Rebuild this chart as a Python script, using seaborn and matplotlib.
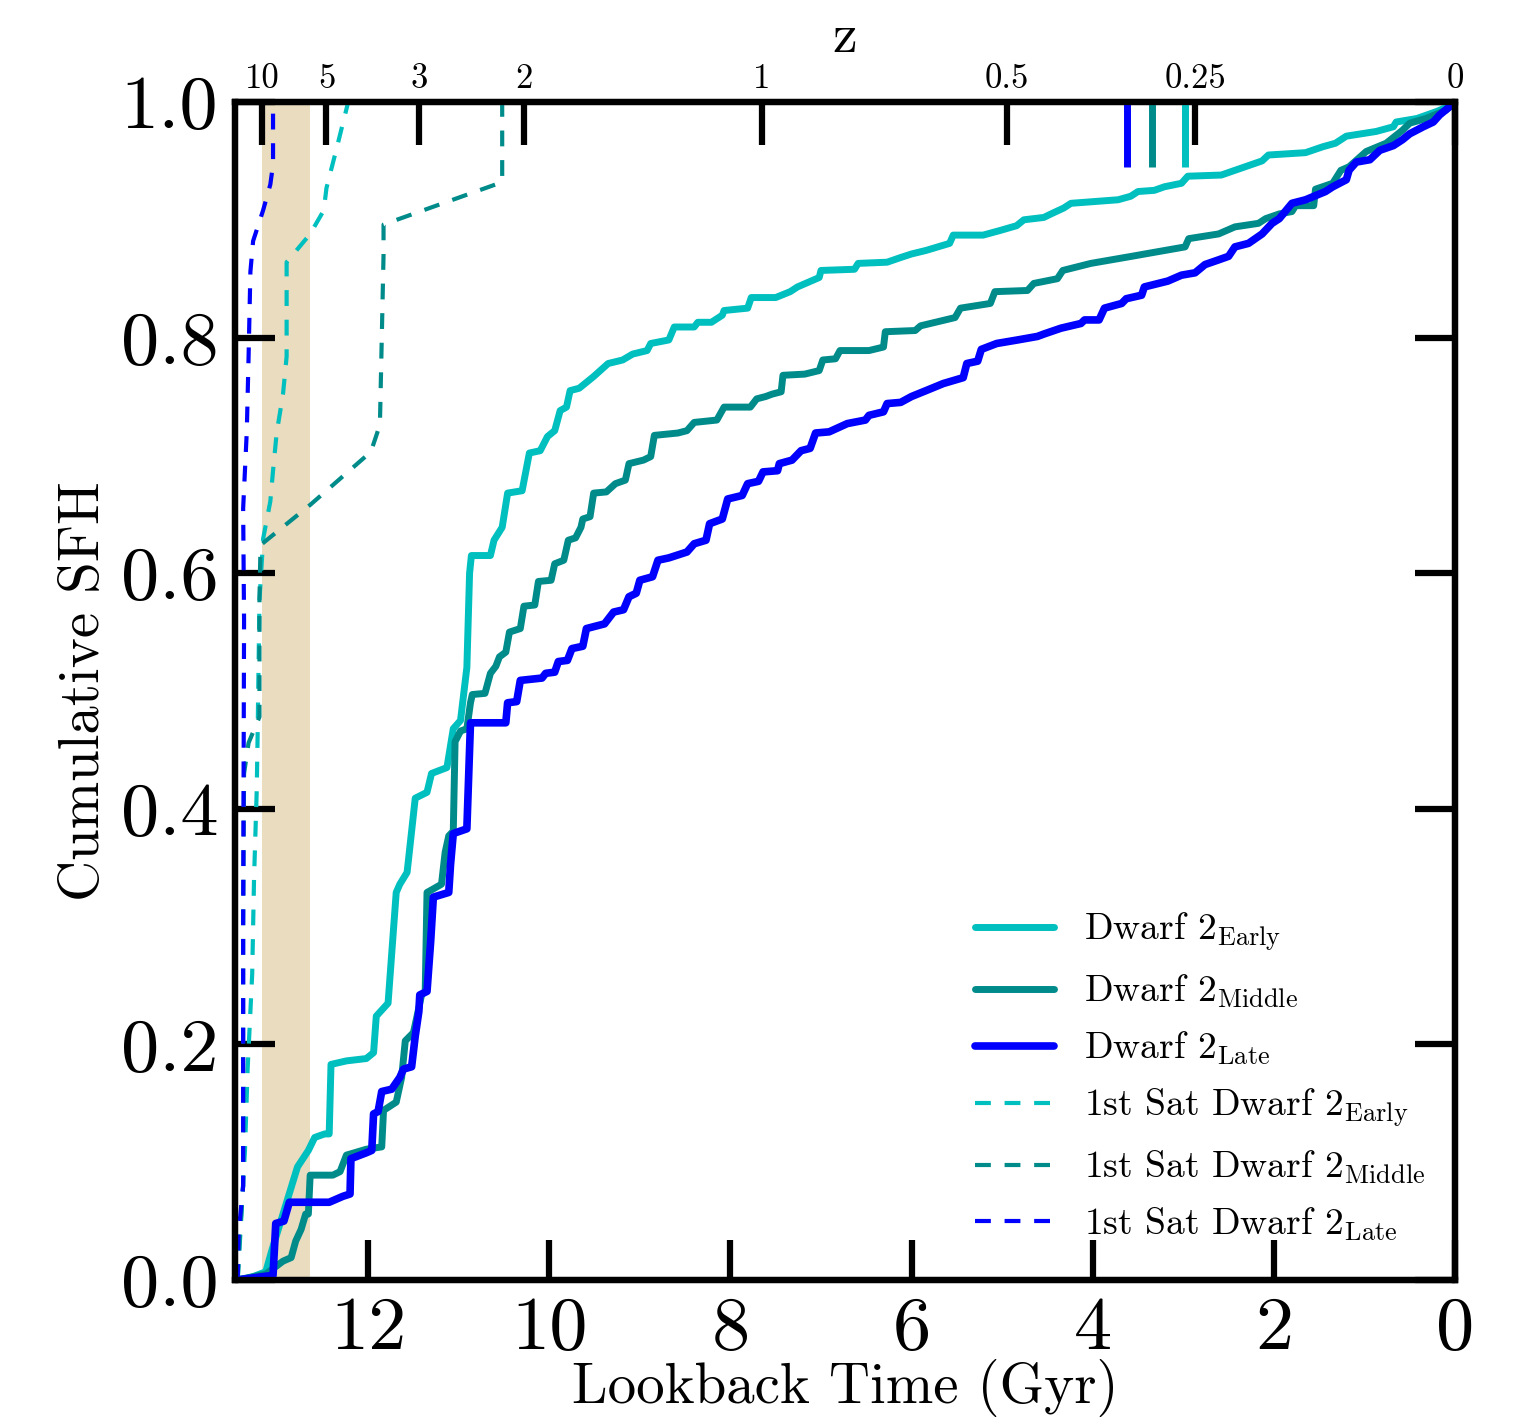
import matplotlib
matplotlib.use("Agg")
import matplotlib.pyplot as plt
import seaborn as sns
import pandas as pd

# ---------------- data ----------------
early_t = [13.45, 13.3, 13.13, 13.06, 12.78, 12.66, 12.59, 12.48, 12.43, 12.41, 12.24, 12.02, 11.94, 11.91, 11.78,
           11.69, 11.65, 11.57, 11.48, 11.35, 11.30, 11.13, 11.06, 10.98, 10.91, 10.88, 10.86, 10.65, 10.61,
           10.52, 10.46, 10.30, 10.22, 10.10, 10.02, 9.94, 9.88, 9.81, 9.77, 9.67, 9.51, 9.35, 9.19, 9.08,
           8.92, 8.88, 8.68, 8.62, 8.40, 8.36, 8.21, 8.09, 8.07, 7.81, 7.77, 7.50, 7.34, 7.26, 7.02, 7.00,
           6.63, 6.59, 6.27, 6.12, 6.00, 5.84, 5.58, 5.54, 5.21, 5.02, 4.84, 4.76, 4.54, 4.46, 4.32, 4.24,
           3.72, 3.58, 3.50, 3.32, 3.21, 3.02, 2.95, 2.58, 2.43, 2.13, 2.06, 1.65, 1.46, 1.32, 1.20, 0.87,
           0.68, 0.65, 0.42, 0.20, 0.02, 0.0]
early_f = [0.0, 0.002, 0.007, 0.026, 0.096, 0.110, 0.121, 0.124, 0.124, 0.183, 0.186, 0.188, 0.193, 0.224, 0.235,
           0.329, 0.336, 0.346, 0.409, 0.414, 0.430, 0.435, 0.468, 0.475, 0.520, 0.600, 0.615, 0.615, 0.628,
           0.639, 0.668, 0.670, 0.702, 0.704, 0.716, 0.721, 0.738, 0.741, 0.755, 0.757, 0.767, 0.778, 0.781,
           0.786, 0.789, 0.795, 0.798, 0.809, 0.809, 0.813, 0.813, 0.819, 0.823, 0.825, 0.834, 0.834, 0.839,
           0.843, 0.851, 0.857, 0.858, 0.863, 0.864, 0.868, 0.871, 0.874, 0.880, 0.887, 0.887, 0.891, 0.895,
           0.900, 0.902, 0.905, 0.910, 0.914, 0.917, 0.920, 0.924, 0.925, 0.928, 0.931, 0.937, 0.938, 0.942,
           0.950, 0.955, 0.957, 0.962, 0.965, 0.971, 0.975, 0.979, 0.983, 0.986, 0.992, 0.998, 1.0]

middle_t = [13.45, 13.13, 12.94, 12.85, 12.80, 12.74, 12.69, 12.66, 12.64, 12.39, 12.31, 12.24, 12.02, 11.85,
            11.83, 11.69, 11.63, 11.59, 11.50, 11.46, 11.41, 11.37, 11.35, 11.28, 11.19, 11.15, 11.11, 11.06,
            11.04, 10.98, 10.91, 10.87, 10.85, 10.71, 10.65, 10.59, 10.55, 10.48, 10.44, 10.32, 10.28, 10.16,
            10.12, 9.98, 9.94, 9.84, 9.79, 9.71, 9.65, 9.63, 9.55, 9.51, 9.37, 9.27, 9.16, 9.12, 8.96, 8.88,
            8.84, 8.58, 8.48, 8.40, 8.15, 8.07, 7.78, 7.71, 7.61, 7.54, 7.44, 7.42, 7.18, 7.02, 6.98, 6.84,
            6.79, 6.47, 6.31, 6.29, 5.96, 5.90, 5.52, 5.46, 5.13, 5.08, 4.72, 4.65, 4.39, 4.33, 4.02, 3.57,
            3.35, 2.98, 2.94, 2.61, 2.43, 2.17, 2.09, 1.94, 1.80, 1.76, 1.56, 1.54, 1.35, 1.26, 1.17, 0.98,
            0.76, 0.58, 0.50, 0.32, 0.10, 0.0]
middle_f = [0.0, 0.005, 0.016, 0.019, 0.033, 0.043, 0.056, 0.056, 0.089, 0.089, 0.092, 0.106, 0.111, 0.113,
            0.144, 0.151, 0.172, 0.203, 0.210, 0.224, 0.242, 0.245, 0.329, 0.332, 0.336, 0.363, 0.377, 0.381,
            0.457, 0.466, 0.468, 0.490, 0.497, 0.498, 0.515, 0.521, 0.529, 0.533, 0.550, 0.553, 0.572, 0.573,
            0.593, 0.594, 0.608, 0.611, 0.628, 0.630, 0.639, 0.646, 0.648, 0.668, 0.669, 0.676, 0.679, 0.693,
            0.696, 0.699, 0.717, 0.719, 0.721, 0.728, 0.730, 0.741, 0.741, 0.748, 0.750, 0.752, 0.754, 0.768,
            0.769, 0.772, 0.781, 0.782, 0.789, 0.789, 0.792, 0.805, 0.806, 0.810, 0.817, 0.825, 0.829, 0.839,
            0.840, 0.846, 0.850, 0.857, 0.863, 0.869, 0.872, 0.877, 0.884, 0.888, 0.894, 0.897, 0.901, 0.905,
            0.907, 0.912, 0.912, 0.926, 0.931, 0.942, 0.945, 0.958, 0.965, 0.976, 0.982, 0.986, 0.993, 1.0]

late_t = [13.45, 13.05, 13.02, 12.93, 12.87, 12.43, 12.28, 12.20, 12.19, 12.02, 11.96, 11.94, 11.89,
          11.85, 11.74, 11.65, 11.61, 11.52, 11.48, 11.44, 11.43, 11.35, 11.31, 11.28, 11.11, 11.09, 11.06,
          10.91, 10.87, 10.48, 10.46, 10.36, 10.32, 10.08, 10.04, 9.94, 9.90, 9.80, 9.75, 9.63, 9.59, 9.39,
          9.29, 9.18, 9.12, 9.04, 9.00, 8.86, 8.80, 8.68, 8.48, 8.40, 8.27, 8.23, 8.09, 8.03, 7.87, 7.81,
          7.69, 7.64, 7.48, 7.46, 7.32, 7.22, 7.12, 7.06, 6.91, 6.71, 6.51, 6.47, 6.31, 6.27, 6.12, 6.00,
          5.84, 5.65, 5.43, 5.39, 5.27, 5.23, 5.06, 4.83, 4.61, 4.54, 4.35, 4.13, 4.09, 3.93, 3.87, 3.68,
          3.63, 3.46, 3.43, 3.17, 3.02, 2.87, 2.76, 2.61, 2.50, 2.43, 2.28, 2.13, 2.02, 1.94, 1.80, 1.65,
          1.43, 1.35, 1.20, 1.17, 1.09, 0.94, 0.83, 0.68, 0.58, 0.50, 0.35, 0.24, 0.17, 0.06, 0.0]
late_f = [0.0, 0.004, 0.048, 0.050, 0.066, 0.066, 0.071, 0.073, 0.103, 0.108, 0.110, 0.141, 0.143,
          0.160, 0.162, 0.172, 0.179, 0.181, 0.207, 0.228, 0.242, 0.245, 0.287, 0.325, 0.329, 0.353, 0.379,
          0.383, 0.473, 0.473, 0.490, 0.491, 0.509, 0.511, 0.515, 0.516, 0.525, 0.526, 0.536, 0.538, 0.553,
          0.557, 0.567, 0.569, 0.580, 0.583, 0.594, 0.597, 0.611, 0.613, 0.618, 0.625, 0.628, 0.642, 0.646,
          0.663, 0.666, 0.676, 0.678, 0.686, 0.687, 0.693, 0.696, 0.704, 0.706, 0.719, 0.720, 0.727, 0.730,
          0.734, 0.737, 0.744, 0.745, 0.750, 0.755, 0.761, 0.766, 0.778, 0.780, 0.790, 0.795, 0.798, 0.801,
          0.803, 0.808, 0.812, 0.815, 0.815, 0.825, 0.829, 0.833, 0.836, 0.843, 0.848, 0.853, 0.855, 0.862,
          0.866, 0.869, 0.877, 0.880, 0.888, 0.897, 0.901, 0.914, 0.917, 0.924, 0.928, 0.934, 0.942, 0.949,
          0.951, 0.959, 0.963, 0.968, 0.973, 0.979, 0.983, 0.989, 0.996, 1.0]

sat_early_t = [13.44, 13.41, 13.36, 13.33, 13.28, 13.26, 13.23, 13.22, 13.20, 13.17, 13.16, 13.08, 13.05,
               13.01, 12.94, 12.90, 12.90, 12.64, 12.49, 12.46, 12.35, 12.22]
sat_early_f = [0.0, 0.04, 0.11, 0.18, 0.26, 0.34, 0.416, 0.464, 0.577, 0.615, 0.629, 0.661, 0.687,
               0.719, 0.752, 0.784, 0.864, 0.888, 0.908, 0.927, 0.960, 1.0]

sat_middle_t = [13.44, 13.42, 13.38, 13.38, 13.37, 13.32, 13.20, 13.20, 13.19, 13.17, 12.64, 11.97, 11.87,
                11.83, 11.83, 10.52, 10.52]
sat_middle_f = [0.0, 0.034, 0.08, 0.30, 0.43, 0.456, 0.478, 0.577, 0.617, 0.625, 0.658, 0.703, 0.726,
                0.87, 0.896, 0.932, 1.0]

sat_late_t = [13.44, 13.43, 13.38, 13.38, 13.37, 13.38, 13.34, 13.32, 13.30, 13.27, 13.16, 13.08, 13.05, 13.05]
sat_late_f = [0.0, 0.04, 0.08, 0.30, 0.56, 0.655, 0.72, 0.784, 0.856, 0.882, 0.908, 0.93, 0.947, 1.0]

labels = [r"Dwarf 2$_{\rm Early}$", r"Dwarf 2$_{\rm Middle}$", r"Dwarf 2$_{\rm Late}$",
          r"1st Sat Dwarf 2$_{\rm Early}$", r"1st Sat Dwarf 2$_{\rm Middle}$", r"1st Sat Dwarf 2$_{\rm Late}$"]
colors = ["#00bfbf", "#008b8b", "#0000ff"]

# markers near the top (lookback time)
marker_t = [3.62, 3.35, 2.98]

# shaded band (lookback time)
band = [13.17, 12.64]

# redshift axis
z_labels = ["10", "5", "3", "2", "1", "0.5", "0.25", "0"]
z_times = [13.17, 12.46, 11.44, 10.28, 7.65, 4.95, 2.87, 0.0]

x_ticks = [12, 10, 8, 6, 4, 2, 0]
y_ticks = [0.0, 0.2, 0.4, 0.6, 0.8, 1.0]
y_ticklabels = ["0.0", "0.2", "0.4", "0.6", "0.8", "1.0"]

# ---------------- style ----------------
sns.set_style("white")
plt.rcParams["font.family"] = ["cmr10", "DejaVu Serif"]
plt.rcParams["mathtext.fontset"] = "cm"
plt.rcParams["axes.formatter.use_mathtext"] = True
plt.rcParams["axes.unicode_minus"] = False
for k in ["text.color", "axes.labelcolor", "xtick.color", "ytick.color", "axes.edgecolor"]:
    plt.rcParams[k] = "black"

fig = plt.figure(figsize=(15.27, 14.2), dpi=100)
ax = fig.add_axes([235 / 1527, 140 / 1420, 1220 / 1527, 1178 / 1420])

ax.axvspan(band[0], band[1], color="#e9dcbf", lw=0, zorder=0)

solid = [(early_t, early_f), (middle_t, middle_f), (late_t, late_f)]
for (t, f), c, lab, lw in zip(solid, colors, labels[:3], [5.0, 5.0, 5.5]):
    df = pd.DataFrame({"t": t, "f": f})
    sns.lineplot(data=df, x="t", y="f", ax=ax, color=c, lw=lw, sort=False,
                 estimator=None, label=lab, zorder=3)

dashed = [(sat_early_t, sat_early_f), (sat_middle_t, sat_middle_f), (sat_late_t, sat_late_f)]
for (t, f), c, lab in zip(dashed, colors, labels[3:]):
    df = pd.DataFrame({"t": t, "f": f})
    sns.lineplot(data=df, x="t", y="f", ax=ax, color=c, lw=3.0, sort=False,
                 estimator=None, label=lab, linestyle=(0, (3.8, 3.3)), zorder=3)

ax.vlines(marker_t, 0.945, 1.0, colors=[colors[2], colors[1], colors[0]], lw=5, zorder=4)

ax.set_xlim(13.47, 0)
ax.set_ylim(0, 1)
ax.set_xticks(x_ticks)
ax.set_xticklabels([str(v) for v in x_ticks])
ax.set_yticks(y_ticks)
ax.set_yticklabels(y_ticklabels)
ax.tick_params(axis="x", which="major", direction="in", length=29, width=4.5,
               labelsize=55, pad=12, bottom=True, top=False)
ax.tick_params(axis="y", which="major", direction="in", length=29, width=4.5,
               labelsize=55, pad=12, left=True, right=True)
for s in ax.spines.values():
    s.set_linewidth(4.5)
    s.set_color("black")

ax.set_xlabel("Lookback Time (Gyr)", fontsize=41, labelpad=-4)
ax.set_ylabel("Cumulative SFH", fontsize=41, labelpad=8)

ax2 = ax.twiny()
ax2.set_xlim(ax.get_xlim())
ax2.set_xticks(z_times)
ax2.set_xticklabels(z_labels)
ax2.tick_params(axis="x", which="major", direction="in", length=31, width=4.5,
                labelsize=25, pad=5)
for s in ax2.spines.values():
    s.set_linewidth(4.5)
    s.set_color("black")
ax2.set_xlabel("z", fontsize=40, labelpad=8)

leg = ax.legend(loc="upper left", bbox_to_anchor=(975 / 1527, 1 - 911 / 1420),
                bbox_transform=fig.transFigure, frameon=False, fontsize=27,
                handlelength=2.1, handletextpad=0.8, labelspacing=0.52, borderpad=0,
                borderaxespad=0)

fig.savefig("out.png", dpi=100)
